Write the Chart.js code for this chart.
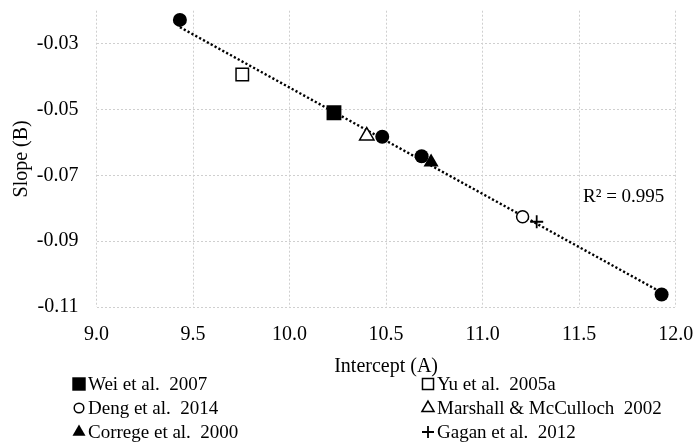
<!DOCTYPE html>
<html>
<head>
<meta charset="utf-8">
<script src="https://cdn.jsdelivr.net/npm/chart.js@4/dist/chart.umd.min.js"></script>
<style>
  html, body { margin: 0; padding: 0; background: #fff; }
  #wrap { width: 695px; height: 443px; }
</style>
</head>
<body>
<div id="wrap"><canvas id="chart" width="695" height="443"></canvas></div>
<script>
// ---------------- Data ----------------
const weiX = [10.23];
const weiY = [-0.0510];
const yuX = [9.755];
const yuY = [-0.0394];
const dengX = [11.207];
const dengY = [-0.0826];
const marshallX = [10.40];
const marshallY = [-0.0580];
const corregeX = [10.733];
const corregeY = [-0.0660];
const gaganX = [11.28];
const gaganY = [-0.0841];
const thisX = [9.432, 10.48, 10.684, 11.927];
const thisY = [-0.0228, -0.0583, -0.0642, -0.1062];
const trendX = [9.432, 11.927];
const trendY = [-0.0250, -0.1056];

const legendLabels = ["Wei et al.  2007", "Yu et al.  2005a", "Deng et al.  2014",
                      "Marshall & McCulloch  2002", "Correge et al.  2000", "Gagan et al.  2012"];
const yTicks = [-0.11, -0.09, -0.07, -0.05, -0.03];
const r2Text = "R\u00b2 = 0.995";

const FONT = "'Liberation Serif', 'Times New Roman', serif";
const pts = (xs, ys) => xs.map((x, i) => ({ x: x, y: ys[i] }));

// marker style per legend entry (radius = plot marker, lr = legend marker)
const markers = [
  { pointStyle: "rect", radius: 10.5, lr: 9.5, fill: "#000", stroke: "#000", bw: 0 },
  { pointStyle: "rect", radius: 8.8, lr: 7.8, fill: "#fff", stroke: "#000", bw: 1.5 },
  { pointStyle: "circle", radius: 6, lr: 4.8, fill: "#fff", stroke: "#000", bw: 1.5 },
  { pointStyle: "triangle", radius: 8.3, lr: 7, fill: "#fff", stroke: "#000", bw: 1.5 },
  { pointStyle: "triangle", radius: 8.7, lr: 7.5, fill: "#000", stroke: "#000", bw: 0 },
  { pointStyle: "cross", radius: 6.5, lr: 6, fill: "#000", stroke: "#000", bw: 1.8 }
];
const series = [[weiX, weiY], [yuX, yuY], [dengX, dengY], [marshallX, marshallY], [corregeX, corregeY], [gaganX, gaganY]];

const datasets = series.map((s, i) => ({
  label: legendLabels[i],
  data: pts(s[0], s[1]),
  showLine: false,
  pointStyle: markers[i].pointStyle,
  pointRadius: markers[i].radius,
  pointBackgroundColor: markers[i].fill,
  pointBorderColor: markers[i].stroke,
  pointBorderWidth: markers[i].bw
}));
datasets.push({
  label: "",
  data: pts(thisX, thisY),
  showLine: false,
  pointStyle: "circle",
  pointRadius: 7,
  pointBackgroundColor: "#000",
  pointBorderColor: "#000",
  pointBorderWidth: 0
});
datasets.push({
  label: "trend",
  data: pts(trendX, trendY),
  showLine: true,
  borderColor: "#000",
  borderWidth: 2.4,
  borderDash: [2.2, 2.2],
  pointRadius: 0
});

// legend in two columns + R² label
const extras = {
  id: "extras",
  afterDraw(chart) {
    const ctx = chart.ctx;
    ctx.save();
    ctx.font = "19px " + FONT;
    ctx.textBaseline = "middle";
    ctx.textAlign = "left";
    const colX = [79, 428];
    const rowY = [384, 408, 432];
    legendLabels.forEach((lab, i) => {
      const cx = colX[i % 2], cy = rowY[Math.floor(i / 2)];
      const m = markers[i];
      ctx.fillStyle = m.fill;
      ctx.strokeStyle = m.stroke;
      ctx.lineWidth = m.bw;
      Chart.helpers.drawPoint(ctx, { pointStyle: m.pointStyle, radius: m.lr, borderWidth: m.bw }, cx, cy);
      ctx.fillStyle = "#000";
      ctx.fillText(lab, 88 + (i % 2) * 349, cy + 1);
    });
    // R² label
    const xs = chart.scales.x, ys = chart.scales.y;
    ctx.fillText(r2Text, xs.getPixelForValue(11.52), ys.getPixelForValue(-0.0766));
    ctx.restore();
  }
};

new Chart(document.getElementById("chart"), {
  type: "scatter",
  data: { datasets: datasets },
  options: {
    responsive: false,
    animation: false,
    layout: { padding: { left: 0, right: 19.3, top: 10.7, bottom: 64 } },
    plugins: { legend: { display: false }, tooltip: { enabled: false } },
    scales: {
      x: {
        type: "linear",
        min: 9, max: 12,
        afterFit: s => { s.height = 72; s.paddingLeft = 0; s.paddingRight = 0; },
        ticks: { stepSize: 0.5, padding: 16, color: "#000", font: { family: FONT, size: 20 },
                 callback: v => Number(v).toFixed(1) },
        grid: { color: "#cfcfcf", lineWidth: 1, drawTicks: false },
        border: { display: false, dash: [2, 2] },
        title: { display: true, text: "Intercept (A)", color: "#000", font: { family: FONT, size: 20 },
                 padding: { top: 0, bottom: 0 } }
      },
      y: {
        type: "linear",
        min: -0.11, max: -0.02,
        afterBuildTicks: scale => { scale.ticks = yTicks.map(v => ({ value: v })); },
        afterFit: s => { s.width = 96.5; s.paddingTop = 0; s.paddingBottom = 0; },
        ticks: { padding: 18, color: "#000", font: { family: FONT, size: 20 },
                 callback: v => Number(v).toFixed(2) },
        grid: { color: "#cfcfcf", lineWidth: 1, drawTicks: false },
        border: { display: false, dash: [2, 2] },
        title: { display: true, text: "Slope (B)", color: "#000", font: { family: FONT, size: 20 },
                 padding: { top: 10, bottom: 0 } }
      }
    }
  },
  plugins: [extras]
});
</script>
</body>
</html>
